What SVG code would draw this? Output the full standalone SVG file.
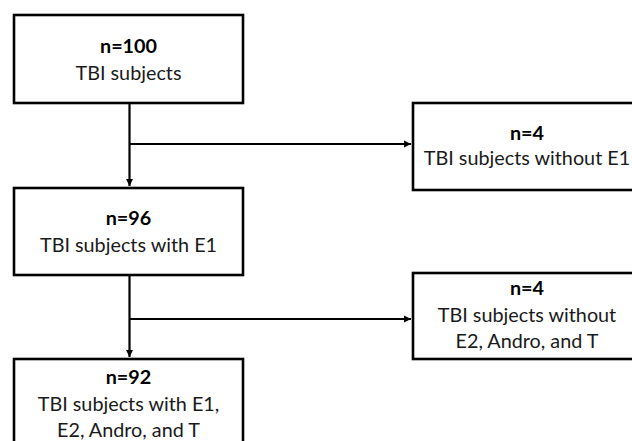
<svg xmlns="http://www.w3.org/2000/svg" width="632" height="441" viewBox="0 0 632 441">
<defs>
<style>
.box{fill:#fff;stroke:#000;stroke-width:2.6}
.t{font-family:Lato,"Open Sans","Liberation Sans",sans-serif;font-size:19.8px;fill:#1a1a1a;text-anchor:middle}
.b{font-weight:bold;fill:#000}
.c{stroke:#000;stroke-width:2.2;fill:none}
</style>
<marker id="ah" markerWidth="8" markerHeight="8" refX="7" refY="4" orient="auto" markerUnits="userSpaceOnUse">
<path d="M0,0.5 L7,4 L0,7.5 Z" fill="#000"/>
</marker>
</defs>
<g id="connectors">
<path class="c" d="M129.5,103 V186" marker-end="url(#ah)"/>
<path class="c" d="M129.5,144 H411" marker-end="url(#ah)"/>
<path class="c" d="M129.5,275 V357" marker-end="url(#ah)"/>
<path class="c" d="M129.5,319 H411" marker-end="url(#ah)"/>
</g>
<g id="n100">
<rect class="box" x="14" y="15" width="229" height="88"/>
<text class="t b" x="128.5" y="53">n=100</text>
<text class="t" x="128.5" y="80">TBI subjects</text>
</g>
<g id="n4a">
<rect class="box" x="413" y="103" width="229" height="87"/>
<text class="t b" x="527" y="140">n=4</text>
<text class="t" x="527" y="165">TBI subjects without E1</text>
</g>
<g id="n96">
<rect class="box" x="14" y="188" width="229" height="87"/>
<text class="t b" x="128.5" y="225">n=96</text>
<text class="t" x="128.5" y="252">TBI subjects with E1</text>
</g>
<g id="n4b">
<rect class="box" x="413" y="273" width="229" height="86"/>
<text class="t b" x="527" y="295">n=4</text>
<text class="t" x="527" y="322">TBI subjects without</text>
<text class="t" x="527" y="348">E2, Andro, and T</text>
</g>
<g id="n92">
<rect class="box" x="14" y="359" width="229" height="90"/>
<text class="t b" x="128.5" y="384">n=92</text>
<text class="t" x="128.5" y="411">TBI subjects with E1,</text>
<text class="t" x="128.5" y="437">E2, Andro, and T</text>
</g>
</svg>
